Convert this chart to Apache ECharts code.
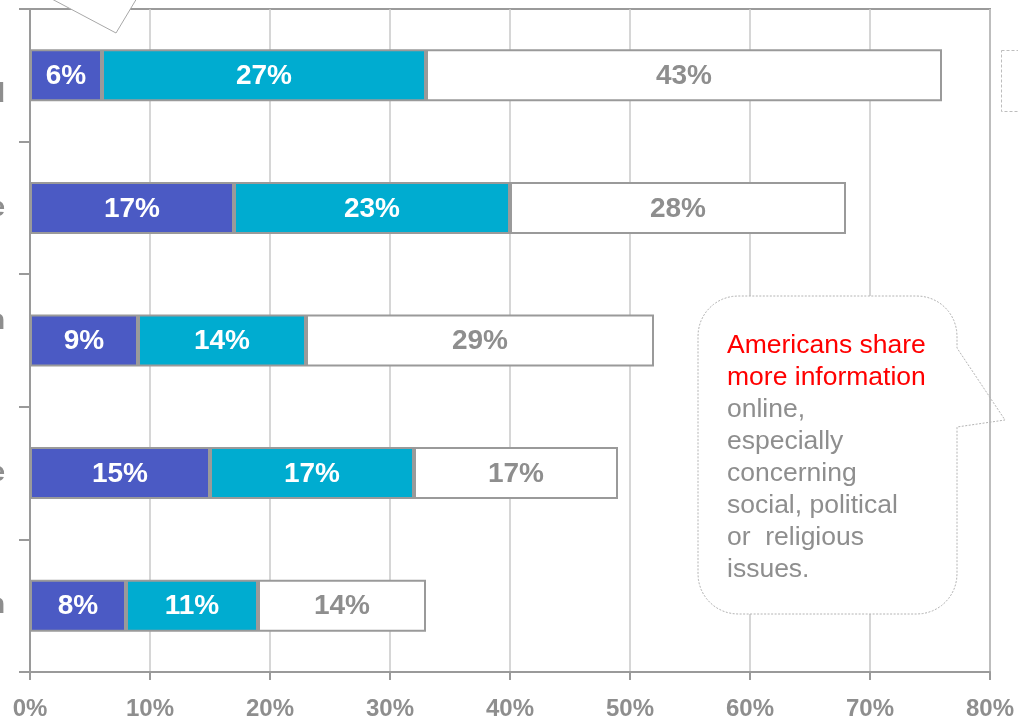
<!DOCTYPE html>
<html>
<head>
<meta charset="utf-8">
<script src="https://cdn.jsdelivr.net/npm/echarts@6/dist/echarts.min.js"></script>
<style>
  html, body { margin: 0; padding: 0; background: #ffffff; }
  #chart { width: 1018px; height: 719px; }
</style>
</head>
<body>
<div id="chart"></div>
<script>
// Activities, top to bottom
const categories = [
  'Forwarded\nsomething they had read',
  'Posted a political message',
  'Expressed an opinion\nonline',
  'Joined a group online',
  'Signed a petition'
];
const seriesNames = ['Often', 'Sometimes', 'Rarely'];
const valuesOften = [6, 17, 9, 15, 8];
const valuesSometimes = [27, 23, 14, 17, 11];
const valuesRarely = [43, 28, 29, 17, 14];
const tickLabels = ['0%', '10%', '20%', '30%', '40%', '50%', '60%', '70%', '80%'];
const calloutRed = ['Americans share', 'more information'];
const calloutGrey = ['online,', 'especially', 'concerning', 'social, political', 'or  religious', 'issues.'];

const FONT = '"Liberation Sans", Arial, Helvetica, sans-serif';
const GREY_TEXT = '#8e8e8e';
const LINE = '#9a9a9a';

// Multi-line category labels are centred line by line; padding on the
// shorter line shifts it left inside a right-anchored block.
const measureCtx = document.createElement('canvas').getContext('2d');
measureCtx.font = 'bold 28px ' + FONT;
const labelRich = {};
const labelText = categories.map((c, ci) => {
  const lines = c.split('\n');
  const widths = lines.map(l => measureCtx.measureText(l).width);
  const maxW = Math.max(...widths);
  return lines.map((l, li) => {
    const key = 'k' + ci + '_' + li;
    labelRich[key] = {
      fontSize: 28, fontWeight: 'bold', fontFamily: FONT, color: GREY_TEXT,
      lineHeight: 38, padding: [0, (maxW - widths[li]) / 2, 0, 0]
    };
    return '{' + key + '|' + l + '}';
  }).join('\n');
});

// Speech bubble outline with a tail on the right side
function bubbleOutline(x, y, w, h, r, tail) {
  const pts = [];
  const arc = (cx, cy, a0, a1) => {
    for (let i = 0; i <= 12; i++) {
      const a = (a0 + (a1 - a0) * i / 12) * Math.PI / 180;
      pts.push([cx + r * Math.cos(a), cy + r * Math.sin(a)]);
    }
  };
  arc(x + w - r, y + r, -90, 0);
  pts.push([x + w, tail[0]]);
  pts.push([tail[1], tail[2]]);
  pts.push([x + w, tail[3]]);
  arc(x + w - r, y + h - r, 0, 90);
  arc(x + r, y + h - r, 90, 180);
  arc(x + r, y + r, 180, 270);
  pts.push(pts[0].slice());
  return pts;
}

const bx = 698, by = 296, bw = 259, bh = 318, br = 40;
const calloutText = calloutRed.map(t => '{r|' + t + '}')
  .concat(calloutGrey.map(t => '{g|' + t + '}')).join('\n');

const labelStyle = (color) => ({
  show: true, position: 'inside', formatter: '{c}%', offset: [0, 1],
  color: color, fontSize: 28, fontWeight: 'bold', fontFamily: FONT
});

const chart = echarts.init(document.getElementById('chart'), null, { renderer: 'canvas' });
chart.setOption({
  animation: false,
  backgroundColor: '#ffffff',
  grid: {
    left: 30, right: 28, top: 9, bottom: 47,
    containLabel: false, outerBoundsMode: 'none',
    show: true, borderColor: LINE, borderWidth: 2, backgroundColor: 'transparent'
  },
  xAxis: {
    type: 'value', min: 0, max: 80, interval: 10,
    axisLine: { show: true, lineStyle: { color: LINE, width: 2 } },
    axisTick: { show: true, length: 8, lineStyle: { color: LINE, width: 2 } },
    splitLine: { show: true, lineStyle: { color: '#c8c8c8', width: 1.5 } },
    axisLabel: {
      formatter: (v) => tickLabels[Math.round(v / 10)],
      color: GREY_TEXT, fontSize: 24, fontWeight: 'bold', fontFamily: FONT, margin: 25,
      hideOverlap: false
    }
  },
  yAxis: {
    type: 'category', inverse: true, data: categories,
    axisLine: { show: true, lineStyle: { color: LINE, width: 2 } },
    axisTick: { show: true, length: 11, lineStyle: { color: LINE, width: 2 } },
    splitLine: { show: false },
    axisLabel: {
      margin: 25,
      formatter: (v, i) => labelText[i],
      rich: labelRich
    }
  },
  series: [
    {
      name: seriesNames[0], type: 'bar', stack: 'total', barWidth: 52, data: valuesOften,
      itemStyle: { color: '#4b5ac4', borderColor: LINE, borderWidth: 2 },
      label: labelStyle('#ffffff')
    },
    {
      name: seriesNames[1], type: 'bar', stack: 'total', barWidth: 52, data: valuesSometimes,
      itemStyle: { color: '#00acd0', borderColor: LINE, borderWidth: 2 },
      label: labelStyle('#ffffff')
    },
    {
      name: seriesNames[2], type: 'bar', stack: 'total', barWidth: 52, data: valuesRarely,
      itemStyle: { color: '#ffffff', borderColor: LINE, borderWidth: 2 },
      label: labelStyle(GREY_TEXT)
    }
  ],
  graphic: [
    // tail of a bubble above the plot
    {
      type: 'polygon', z: 100,
      shape: { points: [[50, -2], [116, 33], [137, -2]] },
      style: { fill: '#ffffff', stroke: '#a8a8a8', lineWidth: 1 }
    },
    // legend frame
    {
      type: 'rect', z: 100,
      shape: { x: 1001.5, y: 50.5, width: 40, height: 61 },
      style: { fill: '#ffffff', stroke: '#bdbdbd', lineWidth: 1, lineDash: [3, 2] }
    },
    // bubble body
    {
      type: 'rect', z: 100,
      shape: { x: bx, y: by, width: bw, height: bh, r: br },
      style: { fill: '#ffffff', stroke: null }
    },
    {
      type: 'polyline', z: 101,
      shape: { points: bubbleOutline(bx, by, bw, bh, br, [348, 1005, 420, 427]) },
      style: { fill: null, stroke: '#b4b4b4', lineWidth: 1, lineDash: [2, 1.5] }
    },
    {
      type: 'text', z: 102, x: 727, y: 330,
      style: {
        text: calloutText, fontSize: 26.5, fontFamily: FONT, lineHeight: 32,
        verticalAlign: 'top', align: 'left',
        rich: {
          r: { fill: '#ff0000', fontSize: 26.5, fontFamily: FONT, lineHeight: 32 },
          g: { fill: GREY_TEXT, fontSize: 26.5, fontFamily: FONT, lineHeight: 32 }
        }
      }
    }
  ]
});
</script>
</body>
</html>
